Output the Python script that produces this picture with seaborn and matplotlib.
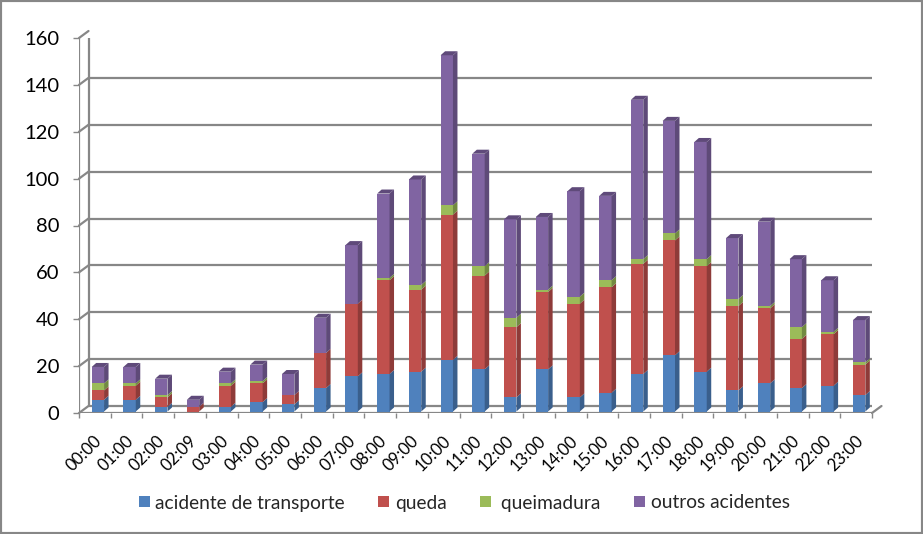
"""Stacked 3D-style bar chart of accidents by hour of day."""

import matplotlib
matplotlib.use("Agg")
import matplotlib.pyplot as plt
import matplotlib.transforms as mtransforms
from matplotlib.lines import Line2D
from matplotlib.patches import Polygon, Rectangle
import numpy as np
import seaborn as sns

# data
hours = ["00:00", "01:00", "02:00", "02:09", "03:00", "04:00", "05:00", "06:00",
         "07:00", "08:00", "09:00", "10:00", "11:00", "12:00", "13:00", "14:00",
         "15:00", "16:00", "17:00", "18:00", "19:00", "20:00", "21:00", "22:00",
         "23:00"]
transporte = [5, 5, 2, 0, 2, 4, 3, 10, 15, 16, 17, 22, 18, 6, 18, 6, 8, 16, 24, 17, 9, 12, 10, 11, 7]
queda = [4, 6, 4, 2, 9, 8, 4, 15, 31, 40, 35, 62, 40, 30, 33, 40, 45, 47, 49, 45, 36, 32, 21, 22, 13]
queimadura = [3, 1, 1, 0, 1, 1, 0, 0, 0, 1, 2, 4, 4, 4, 1, 3, 3, 2, 3, 3, 3, 1, 5, 1, 1]
outros = [7, 7, 7, 3, 5, 7, 9, 15, 25, 36, 45, 64, 48, 42, 31, 45, 36, 68, 48, 50, 26, 36, 29, 22, 18]

series_names = ["acidente de transporte", "queda", "queimadura", "outros acidentes"]
y_ticks = [0, 20, 40, 60, 80, 100, 120, 140, 160]

# Excel 2007 palette: front, side, top
colors = ["#4F81BD", "#C0504D", "#9BBB59", "#8064A2"]
side_colors = ["#3A5F8C", "#8E3B39", "#728A41", "#5E4A78"]
top_colors = ["#6A94C8", "#CC6B68", "#AFC97A", "#5F4A7A"]
GRID = "#878787"
FONT = ["Lato", "DejaVu Sans"]

W, H = 923, 534
WALL_DX, WALL_DY = 9.5, 7      # depth of the back wall, pixels
BAR_DX, BAR_DY = 4.5, 4        # depth of each bar, pixels

sns.set_theme(style="white")
plt.rcParams["font.family"] = FONT

fig = plt.figure(figsize=(W / 100, H / 100), dpi=100)
ax = fig.add_axes([79 / W, 1 - 413 / H, 793 / W, 375 / H])

# stacked bars
values = [transporte, queda, queimadura, outros]
bottom = np.zeros(len(hours))
groups = []
for name, vals, col in zip(series_names, values, colors):
    n_before = len(ax.patches)
    sns.barplot(x=hours, y=vals, bottom=bottom.copy(), color=col, saturation=1,
                width=0.39, errorbar=None, ax=ax, linewidth=0, zorder=3)
    groups.append(ax.patches[n_before:])
    bottom += np.array(vals)

ax.set_xlim(-0.5, len(hours) - 0.5)
ax.set_ylim(0, 160)
ax.set_autoscale_on(False)
ax.patch.set_visible(False)
for sp in ax.spines.values():
    sp.set_visible(False)
ax.grid(False)

# back wall gridlines and floor
wall = mtransforms.offset_copy(ax.transData, fig=fig, x=WALL_DX, y=WALL_DY, units="dots")
ax.hlines(y_ticks, -0.5, len(hours) - 0.5, transform=wall, colors=GRID, lw=1.6, zorder=1)
ax.vlines(-0.5, 0, 160, transform=wall, colors=GRID, lw=1.6, zorder=1)

# front axes
ax.vlines(-0.5, 0, 160, colors=GRID, lw=1.6, zorder=1)
ax.hlines(0, -0.5, len(hours) - 0.5, colors=GRID, lw=1.6, zorder=1)

ident = mtransforms.IdentityTransform()
for yv in y_ticks:
    fx, fy = ax.transData.transform((-0.5, yv))
    ax.add_line(Line2D([fx, fx + WALL_DX], [fy, fy + WALL_DY], transform=ident,
                       color=GRID, lw=1.6, zorder=1, clip_on=False))
rx, ry = ax.transData.transform((len(hours) - 0.5, 0))
ax.add_line(Line2D([rx, rx + WALL_DX], [ry, ry + WALL_DY], transform=ident,
                   color=GRID, lw=1.6, zorder=1, clip_on=False))

# give each bar a side and a top face
bar_trans = mtransforms.offset_copy(ax.transData, fig=fig, x=3, y=1.5, units="dots")
for gi, patches in enumerate(groups):
    for p in patches:
        p.set_transform(bar_trans)
        if p.get_height() <= 0:
            continue
        (x0, y0), (x1, y1) = bar_trans.transform(
            [(p.get_x(), p.get_y()), (p.get_x() + p.get_width(), p.get_y() + p.get_height())])
        side = [(x1, y0), (x1 + BAR_DX, y0 + BAR_DY), (x1 + BAR_DX, y1 + BAR_DY), (x1, y1)]
        ax.add_patch(Polygon(side, closed=True, transform=ident, fc=side_colors[gi],
                             ec="none", zorder=3, clip_on=False))
        if gi == len(groups) - 1:
            top = [(x0, y1), (x1, y1), (x1 + BAR_DX, y1 + BAR_DY), (x0 + BAR_DX, y1 + BAR_DY)]
            ax.add_patch(Polygon(top, closed=True, transform=ident, fc=top_colors[gi],
                                 ec="none", zorder=3, clip_on=False))

# ticks
ax.set_yticks(y_ticks)
ax.tick_params(axis="y", left=True, length=4.3, width=1, color=GRID, pad=10,
               labelsize=14.5, labelcolor="black")
ax.set_xticks(range(len(hours)))
ax.set_xticklabels(hours, rotation=45, ha="right", va="center", rotation_mode="anchor")
ax.set_xticks(np.arange(-0.5, len(hours)), minor=True)
ax.tick_params(axis="x", which="major", length=0, pad=18, labelsize=12, labelcolor="black")
ax.tick_params(axis="x", which="minor", bottom=True, length=3.6, width=1, color=GRID)
shift = mtransforms.ScaledTranslation(3 / 72, 0, fig.dpi_scale_trans)
for lbl in ax.get_xticklabels():
    lbl.set_transform(lbl.get_transform() + shift)
ax.set_xlabel("")
ax.set_ylabel("")

# legend
handles = [Rectangle((0, 0), 1, 1, fc=c, ec="none") for c in colors]
labels = [series_names[0], series_names[1], " " + series_names[2], series_names[3]]
fig.legend(handles, labels, loc="center", bbox_to_anchor=(0.503, 1 - 503 / H), ncol=4,
           frameon=False, fontsize=13.8, handlelength=0.55, handleheight=0.55,
           handletextpad=0.3, columnspacing=1.75)

# outer frame
fig.patches.append(Rectangle((0, 0), 1, 1, transform=fig.transFigure, fill=False,
                             ec=GRID, lw=3, zorder=10))

fig.savefig("out.png", dpi=100)
